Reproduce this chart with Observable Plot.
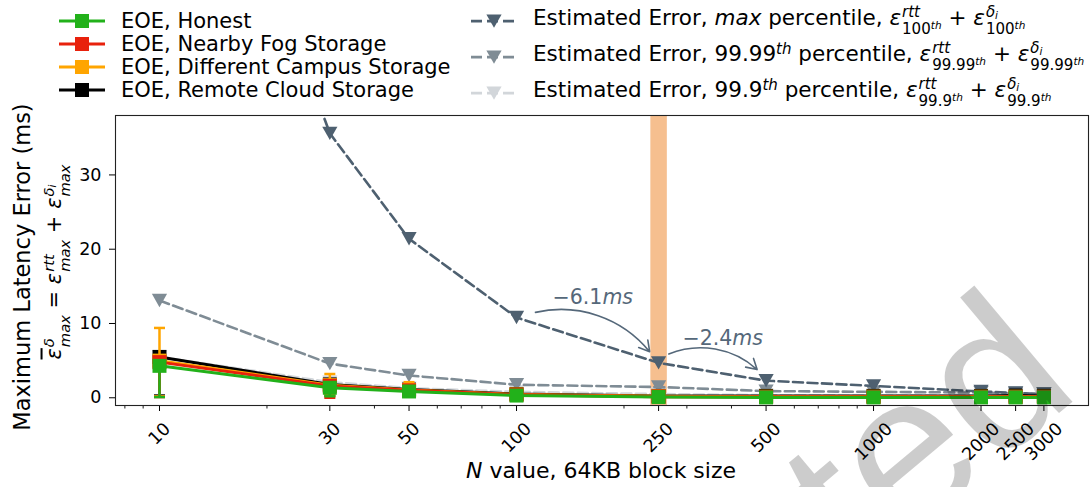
<!DOCTYPE html>
<html><head><meta charset="utf-8">
<script src="https://cdn.jsdelivr.net/npm/d3@7"></script>
<script src="https://cdn.jsdelivr.net/npm/@observablehq/plot@0.6"></script>
<style>
body{margin:0;background:#fff;font-family:"DejaVu Sans",sans-serif;color:#000;}
#wrap{position:relative;width:1091px;height:487px;overflow:hidden;}
#legend{position:relative;height:113px;}
.row{position:absolute;display:flex;align-items:center;white-space:nowrap;font-size:21px;transform:translateY(-50%);}
.row.r{font-size:21.5px;}
.row svg{flex:none;margin-right:16px;}
.ss{display:inline-block;vertical-align:-0.6em;font-size:0.7em;line-height:1.12;margin-left:1px;text-align:left;}
.ss>span{display:block;}
.ss sup{font-size:0.7em;vertical-align:0.45em;line-height:0;font-style:italic;}
.ss sub{font-size:0.7em;vertical-align:-0.2em;line-height:0;}
.th{font-size:0.7em;vertical-align:0.45em;line-height:0;font-style:italic;}
.lab{position:absolute;white-space:nowrap;font-size:22px;}
#chart{position:relative;}
</style>
</head><body>
<div id="wrap">
  <div id="legend"></div>
  <div id="chart"></div>
</div>
<script>
// ---------------- data ----------------
const N = [10, 30, 50, 100, 250, 500, 1000, 2000, 2500, 3000];

// Estimated error series
const estMax   = [98, 35.6, 21.4, 10.8, 4.7, 2.3, 1.6, 0.85, 0.65, 0.5];
const est9999  = [13.1, 4.6, 3.0, 1.75, 1.45, 0.9, 0.8, 0.7, 0.6, 0.5];
const est999   = [5.5, 2.1, 1.3, 0.8, 0.5, 0.35, 0.3, 0.3, 0.3, 0.25];

// EOE series (mean, lower, upper)
const honestMean = [4.3, 1.35, 0.85, 0.3, 0.1, 0.05, 0.05, 0.05, 0.05, 0.05];
const honestLo   = [0.1, 0.2, 0.3, 0.1, 0.0, 0.0, 0.0, 0.0, 0.0, 0.0];
const honestHi   = [5.0, 1.9, 1.1, 0.5, 0.3, 0.2, 0.2, 0.2, 0.2, 0.2];
const fogMean    = [4.8, 1.6, 1.0, 0.4, 0.15, 0.1, 0.1, 0.1, 0.1, 0.1];
const fogLo      = [0.1, 0.0, 0.3, 0.1, 0.0, 0.0, 0.0, 0.0, 0.0, 0.0];
const fogHi      = [5.4, 2.2, 1.3, 0.6, 0.4, 0.3, 0.3, 0.3, 0.3, 0.3];
const campusMean = [5.0, 1.7, 1.05, 0.45, 0.2, 0.15, 0.15, 0.15, 0.15, 0.15];
const campusLo   = [0.2, 0.3, 0.4, 0.1, 0.0, 0.0, 0.0, 0.0, 0.0, 0.0];
const campusHi   = [9.4, 3.2, 2.1, 0.8, 0.5, 0.4, 0.3, 0.3, 0.3, 0.3];
const cloudMean  = [5.5, 1.8, 1.1, 0.5, 0.25, 0.25, 0.25, 0.25, 0.3, 0.25];
const cloudLo    = [0.3, 0.3, 0.5, 0.2, 0.0, 0.0, 0.0, 0.0, 0.0, 0.0];
const cloudHi    = [6.0, 2.2, 1.4, 0.7, 0.5, 0.5, 0.5, 0.5, 0.5, 0.5];

// ticks
const xTicks = [10, 30, 50, 100, 250, 500, 1000, 2000, 2500, 3000];
const xMinorTicks = [8, 9, 20, 40, 60, 70, 80, 90, 200, 300, 400, 600, 700, 800, 900];
const yTicks = [0, 10, 20, 30];
const highlightN = [250];

// annotations
const annoLabel = ["\u22126.1", "\u22122.4"];
const annoX = [174, 402];
const annoY = [13.5, 8.0];
const arrowX1 = [113, 267];
const arrowY1 = [11.5, 5.9];
const arrowX2 = [236, 472];
const arrowY2 = [6.2, 3.8];

// labels
const eoeNames = ["EOE, Honest", "EOE, Nearby Fog Storage", "EOE, Different Campus Storage", "EOE, Remote Cloud Storage"];
const eoeColors = ["#22b11a", "#e8210c", "#ffa500", "#000000"];
const estColors = ["#4e6070", "#7f8c95", "#d2d6da"];

// ---------------- helpers ----------------
const rows = (vals, lo, hi) => N.map((n, i) => ({n, v: vals[i], lo: lo ? lo[i] : null, hi: hi ? hi[i] : null}));
const triDown = {draw(ctx, size) {const r = Math.sqrt(size / Math.PI); const h = r * 0.88; ctx.moveTo(-r, -h); ctx.lineTo(r, -h); ctx.lineTo(0, h); ctx.closePath();}};
const capSym = {draw(ctx, size) {const r = Math.sqrt(size / Math.PI); ctx.moveTo(-r, 0); ctx.lineTo(r, 0);}};

const estSeries = [
  {data: rows(est999), color: estColors[2]},
  {data: rows(est9999), color: estColors[1]},
  {data: rows(estMax), color: estColors[0]}
];
const eoeSeries = [
  {data: rows(cloudMean, cloudLo, cloudHi), color: eoeColors[3]},
  {data: rows(campusMean, campusLo, campusHi), color: eoeColors[2]},
  {data: rows(fogMean, fogLo, fogHi), color: eoeColors[1]},
  {data: rows(honestMean, honestLo, honestHi), color: eoeColors[0]}
];
const slate = "#55687a";
const idx = [0, 1];

const marks = [
  Plot.ruleX(highlightN, {x: d => d, stroke: "#f6bf8f", strokeWidth: 16.5}),
];
for (const s of estSeries) {
  marks.push(Plot.line(s.data, {x: "n", y: "v", stroke: s.color, strokeWidth: 2.6, strokeDasharray: "10,4.5", clip: true}));
  marks.push(Plot.dot(s.data, {x: "n", y: "v", symbol: triDown, r: 7.6, fill: s.color, clip: true}));
}
for (const s of eoeSeries) {
  marks.push(Plot.ruleX(s.data, {x: "n", y1: "lo", y2: "hi", stroke: s.color, strokeWidth: 2.5}));
  marks.push(Plot.dot(s.data, {x: "n", y: "lo", symbol: capSym, r: 5.5, stroke: s.color, fill: "none", strokeWidth: 2.5}));
  marks.push(Plot.dot(s.data, {x: "n", y: "hi", symbol: capSym, r: 5.5, stroke: s.color, fill: "none", strokeWidth: 2.5}));
  marks.push(Plot.line(s.data, {x: "n", y: "v", stroke: s.color, strokeWidth: 3}));
  marks.push(Plot.dot(s.data, {x: "n", y: "v", symbol: "square", r: 7.9, fill: s.color}));
}
// rotated tick labels, grouped by label length so each bounding box hangs at the same depth
const tickGroups = d3.groups(xTicks, d => String(d).length);
for (const [len, vals] of tickGroups) {
  const bbox = (len * 0.636 + 0.73) * 0.707 * 17.5;
  marks.push(Plot.text(vals, {x: d => d, frameAnchor: "bottom", dy: 16 + bbox / 2, rotate: -45, text: d => String(d), fontSize: 17.5, textAnchor: "middle", lineAnchor: "middle", fill: "#000"}));
}
marks.push(
  Plot.arrow(idx, {x1: i => arrowX1[i], y1: i => arrowY1[i], x2: i => arrowX2[i], y2: i => arrowY2[i], bend: 32, stroke: slate, strokeWidth: 1.6, headLength: 11}),
  Plot.text(idx, {x: i => annoX[i], y: i => annoY[i], text: i => annoLabel[i], textAnchor: "end", fontSize: 20.5, fill: slate}),
  Plot.text(idx, {x: i => annoX[i], y: i => annoY[i], text: () => "ms", textAnchor: "start", fontSize: 20.5, fontStyle: "italic", fill: slate}),
  Plot.axisY({ticks: yTicks, tickSize: 6, tickPadding: 8, fontSize: 17.5, label: null}),
  Plot.axisX({ticks: xMinorTicks, tickSize: 3.5, tickFormat: () => "", label: null, strokeWidth: 0.9}),
  Plot.axisX({ticks: xTicks, tickSize: 6, tickFormat: () => "", label: null}),
  Plot.frame({stroke: "#222", strokeWidth: 1.1})
);

const chart = Plot.plot({
  width: 1091,
  height: 374,
  marginTop: 2,
  marginBottom: 82,
  marginLeft: 115,
  marginRight: 3,
  style: {fontFamily: "DejaVu Sans", fontSize: "17.5px", background: "transparent", color: "#000"},
  x: {type: "log", domain: [7.53, 4000]},
  y: {domain: [-1.04, 38]},
  marks
});
document.getElementById("chart").appendChild(chart);

// ---------------- legend ----------------
const th = '<span class="th">th</span>';
function eps(sup, sub) {
  return `<i>ε</i><span class="ss"><span>${sup}</span><span>${sub}</span></span>`;
}
const estNames = [
  `Estimated Error, <i>max</i> percentile, ${eps('<i>rtt</i>', '100<sup>th</sup>')} + ${eps('<i>δ<sub>i</sub></i>', '100<sup>th</sup>')}`,
  `Estimated Error, 99.99${th} percentile, ${eps('<i>rtt</i>', '99.99<sup>th</sup>')} + ${eps('<i>δ<sub>i</sub></i>', '99.99<sup>th</sup>')}`,
  `Estimated Error, 99.9${th} percentile, ${eps('<i>rtt</i>', '99.9<sup>th</sup>')} + ${eps('<i>δ<sub>i</sub></i>', '99.9<sup>th</sup>')}`
];
const legend = document.getElementById("legend");
const leftY = [21, 44, 67, 90];
eoeNames.forEach((name, i) => {
  const c = eoeColors[i];
  const div = document.createElement("div");
  div.className = "row";
  div.style.left = "59px";
  div.style.top = leftY[i] + "px";
  div.innerHTML = `<svg width="46" height="20"><line x1="0" y1="10" x2="46" y2="10" stroke="${c}" stroke-width="3"/><rect x="16" y="3" width="14" height="14" fill="${c}"/></svg><span>${name}</span>`;
  legend.appendChild(div);
});
const rightY = [21, 57, 93];
estNames.forEach((name, i) => {
  const c = estColors[i];
  const div = document.createElement("div");
  div.className = "row r";
  div.style.left = "471px";
  div.style.top = rightY[i] + "px";
  div.innerHTML = `<svg width="46" height="20"><line x1="0" y1="10" x2="46" y2="10" stroke="${c}" stroke-width="2.6" stroke-dasharray="11,5"/><path d="M15.4,3.3 L30.6,3.3 L23,16.7 Z" fill="${c}"/></svg><span>${name}</span>`;
  legend.appendChild(div);
});

// ---------------- axis titles ----------------
const wrap = document.getElementById("wrap");
function addLabel(html, x, y, rot, size) {
  const d = document.createElement("div");
  d.className = "lab";
  d.style.left = x + "px";
  d.style.top = y + "px";
  if (size) d.style.fontSize = size + "px";
  d.style.transform = `translate(-50%,-50%)` + (rot ? ` rotate(${rot}deg)` : "");
  d.innerHTML = html;
  wrap.appendChild(d);
}
addLabel("<i>N</i> value, 64KB block size", 601, 470, 0);
addLabel("Maximum Latency Error (ms)", 22, 267, -90, 22.5);
addLabel(`<i style="text-decoration:overline">ε</i><span class="ss"><span><i>δ</i></span><span><i>max</i></span></span> = ${eps('<i>rtt</i>', '<i>max</i>')} + ${eps('<i>δ<sub>i</sub></i>', '<i>max</i>')}`, 57, 262, -90, 21);

// ---------------- watermark ----------------
const ns = "http://www.w3.org/2000/svg";
const wm = document.createElementNS(ns, "svg");
wm.setAttribute("width", 1091); wm.setAttribute("height", 487);
wm.style.position = "absolute"; wm.style.left = "0"; wm.style.top = "0"; wm.style.pointerEvents = "none";
const t = document.createElementNS(ns, "text");
const wx = 1083, wy = 393;
t.setAttribute("x", wx); t.setAttribute("y", wy);
t.setAttribute("text-anchor", "end");
t.setAttribute("font-size", 210);
t.setAttribute("font-family", "Liberation Sans");
t.setAttribute("fill", "#000"); t.setAttribute("fill-opacity", "0.2");
t.setAttribute("transform", `rotate(-40 ${wx} ${wy})`);
t.textContent = "Accepted";
wm.appendChild(t);
wrap.appendChild(wm);
</script>
</body></html>
